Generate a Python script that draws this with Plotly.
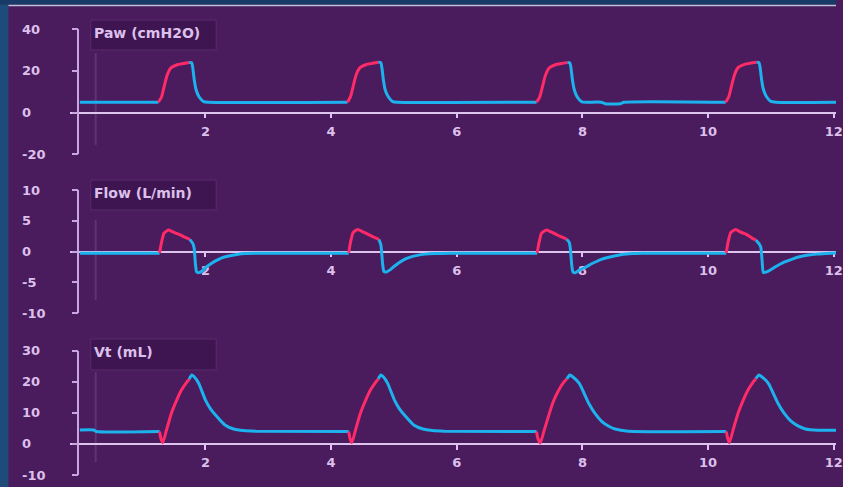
import plotly.graph_objects as go

W, H = 843, 487

# ---------------- data ----------------
time_ticks = [2, 4, 6, 8, 10, 12]
time_tick_labels = ["2", "4", "6", "8", "10", "12"]

paw_ticks = [40, 20, 0, -20]
flow_ticks = [10, 5, 0, -5, -10]
vt_ticks = [30, 20, 10, 0, -10]

panel_titles = ["Paw (cmH2O)", "Flow (L/min)", "Vt (mL)"]

# Paw: inspiratory (red) and expiratory/baseline (blue) segments
paw_insp_t = [1.25, 1.30, 1.35, 1.39, 1.45, 1.55, 1.65, 1.74, None,
              4.26, 4.31, 4.36, 4.40, 4.46, 4.56, 4.66, 4.75, None,
              7.27, 7.32, 7.37, 7.41, 7.47, 7.57, 7.67, 7.76, None,
              10.28, 10.33, 10.38, 10.42, 10.48, 10.58, 10.68, 10.77]
paw_insp_v = [5, 7.5, 13.5, 18, 21.5, 23, 23.6, 24.1, None,
              5, 7.8, 13.8, 18.3, 21.6, 23.1, 23.7, 24.2, None,
              5, 7.4, 13.2, 17.8, 21.4, 23.0, 23.6, 24.0, None,
              5, 7.6, 13.6, 18.1, 21.7, 23.2, 23.8, 24.2]
paw_exp_t = [0.0, 1.25, None,
             1.74, 1.78, 1.80, 1.82, 1.85, 1.90, 1.97, 2.05, 4.26, None,
             4.75, 4.79, 4.81, 4.83, 4.86, 4.91, 4.98, 5.06, 7.27, None,
             7.76, 7.80, 7.82, 7.84, 7.87, 7.92, 7.99, 8.07, 8.30, 8.36, 8.60, 8.66, 10.28, None,
             10.77, 10.81, 10.83, 10.85, 10.88, 10.93, 11.00, 11.08, 12.05]
paw_exp_v = [5, 5, None,
             24.1, 24.0, 21, 16, 11, 7.5, 5.3, 5, 5, None,
             24.2, 24.0, 21.2, 16.2, 11, 7.6, 5.3, 5, 5, None,
             24.0, 23.9, 21, 16, 11, 7.4, 5.2, 5, 5, 4.3, 4.3, 5, 5, None,
             24.2, 24.0, 21.3, 16.3, 11.2, 7.6, 5.4, 5, 5]

# Flow
flow_insp_t = [1.27, 1.30, 1.34, 1.41, 1.48, 1.58, 1.68, 1.75, None,
               4.28, 4.31, 4.35, 4.42, 4.49, 4.59, 4.69, 4.76, None,
               7.28, 7.31, 7.35, 7.43, 7.50, 7.60, 7.69, 7.75, None,
               10.29, 10.32, 10.36, 10.44, 10.51, 10.61, 10.70, 10.76]
flow_insp_v = [-0.2, 1.5, 3.0, 3.5, 3.2, 2.8, 2.3, 2.0, None,
               -0.2, 1.6, 3.1, 3.6, 3.3, 2.8, 2.3, 2.0, None,
               -0.2, 1.5, 3.0, 3.5, 3.2, 2.7, 2.3, 2.0, None,
               -0.2, 1.6, 3.1, 3.6, 3.2, 2.8, 2.2, 1.9]
flow_exp_t = [0.0, 1.27, None,
              1.75, 1.80, 1.82, 1.84, 1.86, 1.90, 1.95, 2.00, 2.08, 2.16, 2.26, 2.37, 2.50, 2.63, 2.90, 4.28, None,
              4.76, 4.79, 4.80, 4.82, 4.84, 4.88, 4.93, 5.00, 5.08, 5.16, 5.26, 5.37, 5.50, 5.65, 5.90, 7.28, None,
              7.75, 7.79, 7.81, 7.83, 7.85, 7.89, 7.95, 8.05, 8.18, 8.31, 8.47, 8.63, 8.80, 8.95, 10.29, None,
              10.76, 10.81, 10.84, 10.86, 10.88, 10.95, 11.08, 11.21, 11.34, 11.47, 11.60, 11.73, 11.88, 12.05]
flow_exp_v = [-0.25, -0.25, None,
              2.0, 1.3, 0.5, -2.0, -3.3, -3.4, -3.1, -2.6, -2.0, -1.5, -1.0, -0.7, -0.45, -0.3, -0.25, -0.25, None,
              2.0, 1.2, 0.4, -2.0, -3.2, -3.3, -3.0, -2.4, -1.8, -1.3, -0.9, -0.6, -0.4, -0.3, -0.25, -0.25, None,
              2.0, 1.5, 0.3, -2.2, -3.3, -3.4, -3.0, -2.5, -1.8, -1.2, -0.8, -0.45, -0.3, -0.25, -0.25, None,
              1.9, 1.3, 0.7, -1.5, -3.4, -3.2, -2.4, -1.7, -1.2, -0.8, -0.55, -0.4, -0.3, -0.2]

# Vt
vt_insp_t = [1.27, 1.29, 1.32, 1.38, 1.46, 1.54, 1.62, 1.70, 1.74, None,
             4.28, 4.30, 4.33, 4.39, 4.47, 4.55, 4.63, 4.71, 4.75, None,
             7.27, 7.29, 7.33, 7.39, 7.47, 7.54, 7.62, 7.70, 7.75, None,
             10.29, 10.31, 10.34, 10.40, 10.48, 10.56, 10.64, 10.72, 10.76]
vt_insp_v = [4.0, 1.8, 0.4, 4.5, 10.0, 14.0, 17.4, 19.8, 20.8, None,
             4.0, 1.8, 0.4, 4.6, 10.1, 14.1, 17.5, 19.9, 20.9, None,
             4.0, 1.8, 0.3, 4.3, 9.6, 13.8, 17.2, 19.8, 20.9, None,
             4.0, 2.0, 0.4, 4.6, 10.0, 14.1, 17.5, 20.0, 21.0]
vt_exp_t = [0.0, 0.22, 0.26, 1.27, None,
            1.74, 1.78, 1.82, 1.89, 2.00, 2.08, 2.16, 2.31, 2.45, 2.60, 2.80, 4.28, None,
            4.75, 4.79, 4.83, 4.90, 5.01, 5.09, 5.17, 5.32, 5.46, 5.61, 5.80, 7.27, None,
            7.75, 7.80, 7.84, 7.95, 8.10, 8.20, 8.31, 8.42, 8.52, 8.73, 10.29, None,
            10.76, 10.81, 10.85, 10.96, 11.11, 11.21, 11.32, 11.43, 11.55, 11.75, 12.05]
vt_exp_v = [4.5, 4.5, 4.0, 4.0, None,
            20.8, 22.2, 21.6, 19.6, 14.1, 11.3, 9.3, 6.1, 4.8, 4.3, 4.1, 4.0, None,
            20.9, 22.2, 21.6, 19.5, 14.0, 11.2, 9.2, 6.0, 4.8, 4.3, 4.1, 4.0, None,
            20.9, 22.2, 21.7, 19.5, 13.1, 9.8, 7.2, 5.7, 4.8, 4.1, 4.0, None,
            21.0, 22.2, 21.7, 19.5, 13.2, 9.9, 7.3, 5.8, 4.8, 4.4, 4.4]

# ---------------- styling ----------------
BG = "#4a1b5d"
RED = "#ff2b68"
BLUE = "#1cb2ee"
AXIS = "#c9a6df"
ZERO = "#dcc4ee"
LABEL = "#dcc0ec"
FONT = "DejaVu Sans"


def px(x):
    return x / W


def py(y):
    return 1 - y / H


# panel: ticks, (ymin, ymax), pixel y of ymax, pixel y of ymin, box top/bottom px
panels = [
    (paw_ticks, (-20, 40), 29.3, 154.3, 20, 50, paw_insp_t, paw_insp_v, paw_exp_t, paw_exp_v),
    (flow_ticks, (-10, 10), 190.0, 313.3, 180, 210, flow_insp_t, flow_insp_v, flow_exp_t, flow_exp_v),
    (vt_ticks, (-10, 30), 350.7, 475.0, 339, 370, vt_insp_t, vt_insp_v, vt_exp_t, vt_exp_v),
]

x_range = [(71 - 80.5) / 63.35, (843 - 80.5) / 63.35]
x_domain = [px(71), 1.0]

fig = go.Figure()
layout = dict(
    width=W, height=H,
    margin=dict(l=0, r=0, t=0, b=0),
    paper_bgcolor=BG, plot_bgcolor="rgba(0,0,0,0)",
    showlegend=False,
    shapes=[], annotations=[],
)

# background frame (blue strips)
layout["shapes"] += [
    dict(type="rect", xref="paper", yref="paper", x0=0, x1=px(8.5), y0=0, y1=1,
         fillcolor="#1e4b79", line=dict(width=0), layer="below"),
    dict(type="rect", xref="paper", yref="paper", x0=0, x1=1, y0=py(4.5), y1=1,
         fillcolor="#173a66", line=dict(width=0), layer="below"),
    dict(type="line", xref="paper", yref="paper", x0=px(8.5), x1=1, y0=py(5.5), y1=py(5.5),
         line=dict(color="#b9c3d6", width=1.5), layer="below"),
]

cursor_spans = [(53, 145), (220, 300), (372, 462)]

for i, (ticks, (ymin, ymax), ytop, ybot, btop, bbot, it, iv, et, ev) in enumerate(panels):
    n = "" if i == 0 else str(i + 1)
    xa, ya = "xaxis" + n, "yaxis" + n
    xr, yr = "x" + n, "y" + n
    d0, d1 = py(ybot), py(ytop)
    zero_pos = d0 + (0 - ymin) / (ymax - ymin) * (d1 - d0)

    layout[ya] = dict(
        domain=[d0, d1], range=[ymin, ymax], anchor="free", position=px(79),
        showline=True, linecolor=AXIS, linewidth=1.5,
        ticks="outside", ticklen=6, tickcolor=AXIS, tickwidth=1.5,
        tickvals=ticks, showticklabels=False, showgrid=False, zeroline=False,
        fixedrange=True,
    )
    layout[xa] = dict(
        domain=x_domain, range=x_range, anchor="free", position=zero_pos,
        showline=True, linecolor=ZERO, linewidth=1.5,
        ticks="outside", ticklen=5, tickcolor=ZERO, tickwidth=1.5,
        tickvals=time_ticks, ticktext=time_tick_labels, ticklabelstandoff=2,
        ticklabeloverflow="allow",
        tickfont=dict(family=FONT, size=13, color=LABEL, weight="bold"),
        showgrid=False, zeroline=False, layer="below traces",
    )

    # y tick labels, left aligned like the monitor
    for v in ticks:
        layout["annotations"].append(dict(
            xref="paper", yref=yr, x=px(20), y=v, xanchor="left", yanchor="middle",
            text="<b>%s</b>" % v, showarrow=False,
            font=dict(family=FONT, size=13, color=LABEL),
        ))

    # title box
    layout["shapes"].append(dict(
        type="rect", xref="paper", yref="paper", x0=px(91.5), x1=px(218), y0=py(bbot), y1=py(btop),
        fillcolor="#3e1550", line=dict(color="#5a2c6c", width=1), layer="below"))
    layout["annotations"].append(dict(
        xref="paper", yref="paper", x=px(93), y=py(btop + 13), xanchor="left", yanchor="middle",
        text="<b>%s</b>" % panel_titles[i], showarrow=False,
        font=dict(family=FONT, size=14, color=LABEL),
    ))

    # faint cursor line
    c0, c1 = cursor_spans[i]
    layout["shapes"].append(dict(
        type="line", xref="paper", yref="paper", x0=px(96.5), x1=px(96.5), y0=py(c1), y1=py(c0),
        line=dict(color="rgba(190,160,210,0.18)", width=2), layer="below"))

    fig.add_trace(go.Scatter(x=et, y=ev, xaxis=xr, yaxis=yr, mode="lines",
                             line=dict(color=BLUE, width=3, shape="spline", smoothing=0.5),
                             connectgaps=False, hoverinfo="skip"))
    fig.add_trace(go.Scatter(x=it, y=iv, xaxis=xr, yaxis=yr, mode="lines",
                             line=dict(color=RED, width=3, shape="spline", smoothing=0.5),
                             connectgaps=False, hoverinfo="skip"))

fig.update_layout(**layout)
fig.write_html(
    "out.html",
    config={"displayModeBar": False},
    post_script="document.body.style.margin='0';document.body.style.padding='0';"
                "document.body.style.overflow='hidden';",
)
